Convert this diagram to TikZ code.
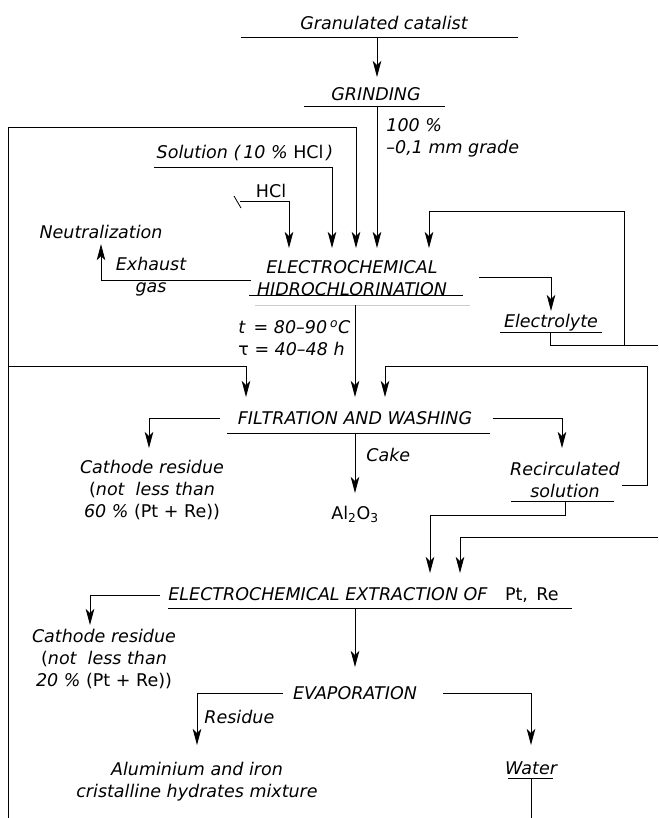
\documentclass[tikz,border=0pt]{standalone}
\usepackage{fontspec}
\setmainfont{DejaVu Sans}
\usetikzlibrary{arrows.meta}

\begin{document}
\begin{tikzpicture}[x=1pt,y=-1pt,line width=0.8pt,
    txt/.style={font=\fontsize{17.5}{22}\selectfont\itshape,inner sep=0pt,align=center},
    flow/.style={-{Stealth[length=16pt,width=8.5pt,inset=4pt]}}]
  \useasboundingbox (0,0) rectangle (658,818);

  % process and product texts
  \node[txt] (cat) at (384,23) {Granulated catalist};
  \node[txt,anchor=north] (grind) at (376,87) {GRINDING};
  \node[txt,anchor=west,align=left] (grade) at (386,138) {100 \%\\–0,1 mm grade};
  \node[txt] (sol) at (245,153) {Solution (\,10 \% {\upshape HCl}\,)};
  \node[txt,font=\fontsize{17.5}{22}\selectfont\upshape] (hcl) at (271,191) {HCl};
  \node[txt] (neut) at (101,232) {Neutralization};
  \node[txt] (exh) at (151,277) {Exhaust\\gas};
  \node[txt,anchor=north] (ech) at (352,260) {ELECTROCHEMICAL\\HIDROCHLORINATION};
  \node[txt,anchor=north] (elec) at (551,314) {Electrolyte};
  \node[txt,anchor=west,align=left] (cond) at (238,338)
    {t\, = 80–90\,\textsuperscript{o}C\\{\upshape τ} = 40–48 h};
  \node[txt,anchor=north] (filt) at (355,411) {FILTRATION AND WASHING};
  \node[txt,anchor=north] (cath1) at (152,460)
    {Cathode residue\\{\upshape(}not\ \ less than\\60 \% {\upshape(Pt + Re))}};
  \node[txt,anchor=west] (cake) at (366,455) {Cake};
  \node[txt,anchor=north] (al) at (355,506) {\upshape Al\textsubscript{2}O\textsubscript{3}};
  \node[txt,anchor=north] (recirc) at (565,462) {Recirculated\\solution};
  \node[txt,anchor=north west] (ext) at (168,587)
    {ELECTROCHEMICAL EXTRACTION OF\quad{\upshape Pt,\, Re}};
  \node[txt,anchor=north] (cath2) at (104,629)
    {Cathode residue\\{\upshape(}not\ \ less than\\20 \% {\upshape(Pt + Re))}};
  \node[txt,anchor=north] (evap) at (355,686) {EVAPORATION};
  \node[txt,anchor=west] (resid) at (204,717) {Residue};
  \node[txt,anchor=north] (mix) at (197,762) {Aluminium and iron\\cristalline hydrates mixture};
  \node[txt,anchor=north] (water) at (531,761) {Water};

  % underlines
  \draw (241,37) -- (518,37);
  \draw (304,106) -- (445,106);
  \draw (249,295) -- (463,295);
  \draw[gray!40,line width=0.6pt] (255,305) -- (470,305);
  \draw (500,332) -- (602,332);
  \draw (227,433) -- (490,433);
  \draw (511,501) -- (614,501);
  \draw (168,608) -- (572,608);
  \draw (508,778) -- (553,778);
  \draw (234,196) -- (241,208);

  % junctions and free ends
  \coordinate (catU) at (377,37);
  \coordinate (grindU) at (377,106);
  \coordinate (echU) at (355,305);
  \coordinate (elecU) at (550,332);
  \coordinate (filtU) at (355,433);
  \coordinate (recU) at (565,501);
  \coordinate (extU) at (355,608);
  \coordinate (waterU) at (531,778);
  \coordinate (frameB) at (8,818);
  \coordinate (frameT) at (8,127);
  \coordinate (frameM) at (8,366);
  \coordinate (solL) at (154,167);
  \coordinate (hclL) at (240,201);
  \coordinate (loopB) at (624,345);
  \coordinate (loopT) at (624,211);
  \coordinate (elecR) at (658,345);
  \coordinate (recR) at (647,366);
  \coordinate (extR) at (658,537);

  % connectors
  \draw[flow,shorten >=10pt] (catU) -- (catU |- grind.north);
  \draw[flow,shorten >=12pt] (grindU) -- (grindU |- ech.north);
  \draw[flow,shorten >=12pt] (frameB) -- (frameT) -| ([xshift=4pt]ech.north);
  \draw[flow,shorten >=12pt] (solL) -| ([xshift=-20pt]ech.north);
  \draw[flow,shorten >=12pt] (hclL) -| ([xshift=-63pt]ech.north);
  \draw[flow,shorten >=12pt] (loopB) -- (loopT) -| ([xshift=77pt]ech.north);
  \draw[flow,shorten >=5pt] ([xshift=-6pt,yshift=-2pt]ech.west) -| (neut.south);
  \draw[flow,shorten >=3pt] ([xshift=32pt,yshift=1pt]ech.east) -| (elec.north);
  \draw (elecU) |- (elecR);
  \draw[flow,shorten >=14pt] (echU) -- (echU |- filt.north);
  \draw[flow,shorten >=14pt] (frameM) -| ([xshift=-109pt]filt.north);
  \draw[flow,shorten >=14pt] ([xshift=2pt,yshift=-5pt]recirc.east) -| (recR)
    -| ([xshift=30pt]filt.north);
  \draw[flow,shorten >=12pt] ([xshift=-18pt]filt.west) -| ([xshift=-3pt]cath1.north);
  \draw[flow,shorten >=14pt] ([xshift=20pt]filt.east) -| ([xshift=-3pt]recirc.north);
  \draw[flow,shorten >=13pt] (filtU) -- (filtU |- al.north);
  \draw[flow,shorten >=14pt] (recU) -- ++(0,14) -| ([xshift=262pt]ext.north west);
  \draw[flow,shorten >=14pt] (extR) -| ([xshift=292pt]ext.north west);
  \draw[flow,shorten >=4pt] ([xshift=-8pt]ext.west) -| ([xshift=-14pt]cath2.north);
  \draw[flow,shorten >=19pt] (extU) -- (extU |- evap.north);
  \draw[flow,shorten >=17pt] ([xshift=-10pt]evap.west) -| (mix.north);
  \draw[flow,shorten >=16pt] ([xshift=26pt]evap.east) -| (water.north);
  \draw (waterU) -- (waterU |- frameB);
\end{tikzpicture}
\end{document}
